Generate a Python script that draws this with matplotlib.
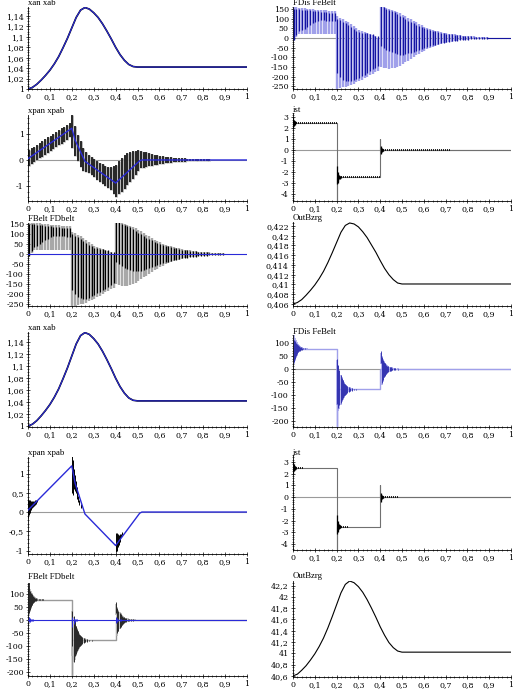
import matplotlib
matplotlib.use("Agg")
import matplotlib.pyplot as plt
from matplotlib.ticker import MultipleLocator, FuncFormatter

# ---- smooth curves (first and second simulation) ----
t_smooth = [0, 0.02, 0.04, 0.06, 0.08, 0.1, 0.12, 0.14, 0.16, 0.18, 0.2, 0.22, 0.24, 0.26,
            0.28, 0.3, 0.32, 0.34, 0.36, 0.38, 0.4, 0.42, 0.44, 0.46, 0.48, 0.5, 0.52, 0.6, 1.0]
xab = [1.000, 1.003, 1.009, 1.017, 1.026, 1.036, 1.048, 1.062, 1.079, 1.097, 1.117, 1.137, 1.151, 1.156,
       1.153, 1.146, 1.137, 1.125, 1.111, 1.096, 1.080, 1.066, 1.055, 1.047, 1.043, 1.042, 1.042, 1.042, 1.042]
outb1 = [0.4060, 0.4063, 0.4069, 0.4078, 0.4088, 0.4099, 0.4112, 0.4127, 0.4145, 0.4165, 0.4186, 0.4207,
         0.4221, 0.4226, 0.4224, 0.4218, 0.4208, 0.4196, 0.4181, 0.4166, 0.4149, 0.4133, 0.4120, 0.4110,
         0.4103, 0.4101, 0.4101, 0.4101, 0.4101]
outb2 = [40.60, 40.63, 40.70, 40.78, 40.88, 40.99, 41.12, 41.27, 41.45, 41.65, 41.86, 42.07, 42.22, 42.28,
         42.25, 42.18, 42.08, 41.95, 41.80, 41.64, 41.47, 41.32, 41.19, 41.10, 41.04, 41.02, 41.02, 41.02, 41.02]

# ---- piecewise xpab ----
t_xpab = [0, 0.2, 0.215, 0.26, 0.4, 0.51, 0.52, 1.0]
xpab = [0.05, 1.2, 0.75, -0.05, -0.87, -0.03, 0.0, 0.0]

# ---- oscillation samples (first simulation) ----
T = [0.003, 0.016, 0.028, 0.041, 0.053, 0.066, 0.078, 0.091, 0.103, 0.116, 0.128, 0.141, 0.153, 0.166, 0.178, 0.191,
     0.203, 0.216, 0.228, 0.241, 0.253, 0.266, 0.278, 0.291, 0.303, 0.316, 0.328, 0.341, 0.353, 0.366, 0.378, 0.391,
     0.403, 0.416, 0.428, 0.441, 0.453, 0.466, 0.478, 0.491, 0.503, 0.516, 0.528, 0.541, 0.553, 0.566, 0.578, 0.591,
     0.603, 0.616, 0.628, 0.641, 0.653, 0.666, 0.678, 0.691, 0.703, 0.716, 0.728, 0.741, 0.753, 0.766, 0.778, 0.791,
     0.803, 0.816, 0.828, 0.841, 0.853, 0.866, 0.878, 0.891]

fdis_hi = [152, 150, 149, 147, 146, 144, 142, 140, 138, 137, 135, 134, 132, 131, 130, 129,
           100, 92, 84, 75, 65, 55, 46, 38, 32, 28, 26, 25, 22, 18, 12, 8,
           165, 158, 152, 146, 140, 133, 125, 116, 107, 98, 90, 82, 75, 68, 62, 56, 51, 46, 42, 38,
           34, 31, 28, 25, 22, 20, 18, 16, 14, 13, 11, 10, 9, 8, 7, 6, 5, 5, 4, 3]
fdis_lo = [-10, 15, 35, 40, 48, 58, 68, 77, 84, 89, 91, 91, 90, 88, 87, 86,
           -180, -200, -215, -222, -225, -224, -220, -212, -205, -197, -190, -182, -173, -163, -153, -145,
           -40, -50, -60, -68, -75, -80, -84, -86, -86, -84, -80, -76, -71, -66, -60, -55, -50, -46, -42, -38,
           -34, -31, -28, -25, -22, -20, -18, -16, -14, -13, -11, -10, -9, -8, -7, -6, -5, -5, -4, -3]
feb_hi = [160, 158, 156, 155, 154, 152, 150, 149, 147, 146, 144, 143, 142, 141, 140, 139,
          112, 104, 96, 88, 80, 70, 60, 50, 42, 36, 30, 25, 20, 14, 8, 2,
          162, 158, 154, 150, 145, 140, 134, 128, 121, 113, 105, 96, 88, 80, 72, 65, 58, 52, 47, 42,
          38, 34, 31, 28, 25, 22, 20, 18, 16, 14, 12, 11, 10, 9, 8, 7, 6, 5, 5, 4]
feb_lo = [-10, 5, 18, 20, 20, 20, 20, 20, 20, 20, 20, 20, 20, 20, 20, 20,
          -262, -258, -255, -252, -248, -243, -237, -230, -224, -217, -209, -200, -192, -184, -177, -170,
          -150, -155, -158, -160, -158, -155, -150, -143, -135, -126, -117, -108, -99, -90, -81, -73, -65, -58, -52, -46,
          -41, -36, -32, -28, -25, -22, -19, -17, -15, -13, -11, -10, -9, -8, -7, -6, -5, -5, -4, -3]

xpan_hi = [0.38, 0.44, 0.50, 0.57, 0.64, 0.71, 0.78, 0.85, 0.92, 0.99, 1.06, 1.13, 1.19, 1.25, 1.31, 1.40,
           1.70, 1.30, 0.95, 0.70, 0.45, 0.30, 0.20, 0.12, 0.05, -0.03, -0.10, -0.17, -0.24, -0.28, -0.27, -0.22,
           -0.20, -0.05, 0.08, 0.18, 0.25, 0.30, 0.33, 0.35, 0.37, 0.35, 0.32, 0.29, 0.26, 0.23, 0.20, 0.18,
           0.16, 0.14, 0.13, 0.11, 0.10, 0.09, 0.08, 0.07, 0.065, 0.06, 0.05, 0.045, 0.04, 0.036, 0.032, 0.028,
           0.025, 0.022, 0.02, 0.018, 0.016, 0.014, 0.012, 0.01]
xpan_lo = [-0.22, -0.14, -0.07, 0.00, 0.06, 0.13, 0.20, 0.27, 0.34, 0.41, 0.48, 0.55, 0.62, 0.69, 0.76, 0.85,
           0.45, 0.15, -0.05, -0.25, -0.40, -0.45, -0.50, -0.58, -0.66, -0.74, -0.82, -0.90, -0.98, -1.05, -1.15, -1.30,
           -1.40, -1.30, -1.20, -1.08, -0.96, -0.85, -0.72, -0.58, -0.42, -0.32, -0.30, -0.27, -0.24, -0.22, -0.20, -0.18,
           -0.16, -0.14, -0.13, -0.11, -0.10, -0.09, -0.08, -0.07, -0.065, -0.06, -0.05, -0.045, -0.04, -0.036, -0.032,
           -0.028, -0.025, -0.022, -0.02, -0.018, -0.016, -0.014, -0.012, -0.01]

# ---- ist (both simulations) ----
ist_t = [0, 0.2, 0.2, 0.2, 0.4, 0.4, 0.4, 1.0]
ist_y = [2.5, 2.5, -5.0, -2.5, -2.5, 1.0, 0.0, 0.0]
ist_burst_t = [0.002, 0.005, 0.008, 0.011, 0.014, 0.202, 0.205, 0.208, 0.211, 0.214, 0.217, 0.220,
               0.402, 0.405, 0.408, 0.411, 0.414]
ist_burst_hi = [3.0, 2.8, 2.7, 2.62, 2.56, -1.5, -2.0, -2.2, -2.3, -2.35, -2.4, -2.43, 0.4, 0.25, 0.15, 0.1, 0.07]
ist_burst_lo = [2.0, 2.2, 2.3, 2.38, 2.44, -3.1, -3.0, -2.8, -2.7, -2.65, -2.6, -2.57, -0.4, -0.25, -0.15, -0.1, -0.07]
ist_level = [2.5, -2.5, 0.0]
ist1_ripple_from = [0.015, 0.222, 0.415]
ist1_ripple_to = [0.2, 0.4, 0.72]
ist2_ripple_from = [0.015, 0.222, 0.415]
ist2_ripple_to = [0.045, 0.258, 0.48]

# ---- second simulation: force bursts ----
step2_t = [0, 0.2, 0.2, 0.2, 0.4, 0.4, 1.0]
step2_y = [78, 78, -240, -78, -78, 0, 0]
burst2_t = [0.003, 0.008, 0.013, 0.018, 0.023, 0.028, 0.033, 0.038, 0.043, 0.048, 0.055, 0.062, 0.07,
            0.203, 0.208, 0.213, 0.218, 0.223, 0.228, 0.233, 0.238, 0.243, 0.248, 0.255, 0.262, 0.27, 0.28, 0.29,
            0.403, 0.408, 0.413, 0.418, 0.423, 0.428, 0.433, 0.438, 0.443, 0.448, 0.455, 0.462, 0.47, 0.48, 0.49, 0.5]
fdis2_hi = [112, 106, 101, 96, 92, 89, 86, 84, 82, 81, 80, 79, 79,
            40, 15, -5, -22, -34, -44, -52, -58, -62, -66, -70, -72, -74, -76, -77,
            68, 45, 36, 28, 22, 17, 13, 10, 8, 6, 5, 4, 3, 2, 1.5, 1]
fdis2_lo = [28, 40, 50, 58, 64, 68, 71, 73, 75, 76, 77, 77, 78,
            -135, -150, -140, -130, -120, -112, -105, -100, -96, -92, -88, -85, -83, -81, -80,
            25, -55, -42, -32, -25, -19, -15, -11, -9, -7, -5, -4, -3, -2, -1.5, -1]
feb2_hi = [130, 118, 110, 103, 97, 92, 88, 86, 84, 82, 81, 80, 79,
           35, 10, -8, -22, -32, -42, -50, -56, -61, -65, -69, -71, -73, -75, -77,
           60, 50, 40, 32, 25, 20, 15, 12, 9, 7, 6, 5, 4, 3, 2, 1]
feb2_lo = [20, 30, 42, 52, 60, 65, 69, 72, 74, 75, 76, 77, 78,
           -140, -160, -155, -140, -128, -118, -110, -104, -98, -94, -90, -87, -84, -82, -80,
           20, -60, -48, -36, -28, -22, -17, -13, -10, -8, -6, -5, -4, -3, -2, -1]
fbelt2_hi = [147, 112, 104, 98, 93, 89, 86, 84, 82, 81, 80, 79, 79,
             35, 15, -5, -22, -34, -44, -52, -58, -62, -66, -70, -72, -74, -76, -77,
             68, 45, 36, 28, 22, 17, 13, 10, 8, 6, 5, 4, 3, 2, 1.5, 1]
fbelt2_lo = [26, 38, 50, 58, 64, 68, 71, 73, 75, 76, 77, 77, 78,
             -100, -160, -140, -130, -120, -112, -105, -100, -96, -92, -88, -85, -83, -81, -80,
             25, -50, -42, -32, -25, -19, -15, -11, -9, -7, -5, -4, -3, -2, -1.5, -1]
fdbelt2_t = [0.003, 0.008, 0.013, 0.018, 0.025, 0.203, 0.208, 0.213, 0.218, 0.225,
             0.403, 0.408, 0.413, 0.418, 0.425]
fdbelt2_hi = [12, 8, 5, 3, 2, 12, 8, 5, 3, 2, 12, 8, 5, 3, 2]
fdbelt2_lo = [-8, -6, -4, -3, -2, -25, -15, -8, -5, -3, -10, -7, -5, -3, -2]

xpan2_t = [0.002, 0.006, 0.010, 0.014, 0.018, 0.022, 0.026, 0.030, 0.035, 0.040,
           0.202, 0.206, 0.210, 0.214, 0.218, 0.222, 0.226, 0.230, 0.235, 0.240,
           0.402, 0.406, 0.410, 0.414, 0.418, 0.422, 0.426, 0.430]
xpan2_hi = [0.35, 0.30, 0.30, 0.28, 0.28, 0.28, 0.29, 0.30, 0.31, 0.32,
            1.45, 1.35, 1.12, 0.95, 0.80, 0.66, 0.52, 0.42, 0.30, 0.20,
            -0.55, -0.55, -0.58, -0.60, -0.60, -0.58, -0.56, -0.53]
xpan2_lo = [-0.15, -0.08, -0.02, 0.05, 0.10, 0.13, 0.16, 0.19, 0.22, 0.25,
            0.50, 0.45, 0.60, 0.55, 0.50, 0.42, 0.35, 0.26, 0.18, 0.10,
            -1.05, -1.00, -0.92, -0.85, -0.78, -0.72, -0.66, -0.60]

BLUE = '#2a2ad8'
DARK = '#1414a0'
LIGHT = '#a0a0ea'
GRAY = '#9a9a9a'

W, H = 515, 690
fig = plt.figure(figsize=(W / 100, H / 100), dpi=100)
fig.patch.set_facecolor('white')

comma = FuncFormatter(lambda v, _: ('%g' % round(v, 6)).replace('.', ','))


def make_ax(left, right, top, bottom, ylim, major, minor, title, title_y):
    ax = fig.add_axes([left / W, 1 - bottom / H, (right - left) / W, (bottom - top) / H])
    ax.set_xlim(0, 1)
    ax.set_ylim(*ylim)
    for s in ('top', 'right'):
        ax.spines[s].set_visible(False)
    for s in ('left', 'bottom'):
        ax.spines[s].set_linewidth(0.6)
    ax.xaxis.set_major_locator(MultipleLocator(0.1))
    ax.xaxis.set_minor_locator(MultipleLocator(0.02))
    ax.yaxis.set_major_locator(MultipleLocator(major))
    ax.yaxis.set_minor_locator(MultipleLocator(minor))
    ax.xaxis.set_major_formatter(comma)
    ax.yaxis.set_major_formatter(comma)
    ax.tick_params(which='major', direction='inout', length=3, width=0.5, pad=1.5,
                   labelsize=5.7, labelfontfamily='DejaVu Serif')
    ax.tick_params(which='minor', direction='inout', length=1.5, width=0.4)
    ax.patch.set_alpha(0)
    fig.text(left / W, 1 - title_y / H, title, fontsize=6.3, family='Liberation Serif',
             va='center', ha='left')
    return ax


def bars(ax, t, hi, lo, color, lw, z=2):
    ax.vlines(t, lo, hi, colors=color, linewidth=lw, zorder=z)


L0, L1 = 28, 247
R0, R1 = 293, 511

# row 1
ax = make_ax(L0, L1, 7, 89, (1.0, 1.157), 0.02, 0.005, 'xan xab', 3)
ax.plot(t_smooth, xab, color='black', lw=1.2)
ax.plot(t_smooth, xab, color=BLUE, lw=0.8)

ax = make_ax(R0, R1, 7, 89, (-264, 160), 50, 10, 'FDis FeBelt', 3)
ax.axhline(0, color=GRAY, lw=0.8, zorder=1)
bars(ax, T, feb_hi, feb_lo, LIGHT, 1.7)
bars(ax, T, fdis_hi, fdis_lo, DARK, 0.9, 3)
ax.plot([0.891, 1.0], [0, 0], color=DARK, lw=0.8)

# row 2
ax = make_ax(L0, L1, 115, 201, (-1.55, 1.7), 1, 0.2, 'xpan xpab', 111)
ax.axhline(0, color=GRAY, lw=0.8, zorder=1)
bars(ax, T, xpan_hi, xpan_lo, '#b0b0b0', 2.0)
bars(ax, T, xpan_hi, xpan_lo, 'black', 1.1, 3)
ax.plot(t_xpab, xpab, color=BLUE, lw=1.0, zorder=4)

ax = make_ax(R0, R1, 113, 201, (-4.68, 3.4), 1, 0.2, 'ist', 110)
ax.axhline(0, color=GRAY, lw=0.8, zorder=1)
ax.plot(ist_t, ist_y, color='#707070', lw=0.8)
bars(ax, ist_burst_t, ist_burst_hi, ist_burst_lo, 'black', 0.9, 3)
ax.hlines(ist_level, ist1_ripple_from, ist1_ripple_to, colors='black', lw=1.2,
          linestyles=(0, (0.6, 0.6)), zorder=3)

# row 3
ax = make_ax(L0, L1, 223, 306, (-260, 155), 50, 10, 'FBelt FDbelt', 219)
bars(ax, T, feb_hi, feb_lo, '#a8a8a8', 1.7)
bars(ax, T, fdis_hi, fdis_lo, 'black', 0.9, 3)
ax.axhline(0, color=BLUE, lw=0.8, zorder=4)

ax = make_ax(R0, R1, 222, 306, (0.40559, 0.4228), 0.002, 0.0005, 'OutBzrg', 218)
ax.plot(t_smooth, outb1, color='black', lw=0.8)

# row 4
ax = make_ax(L0, L1, 332, 427, (0.9984, 1.157), 0.02, 0.005, 'xan xab', 328)
ax.plot(t_smooth, xab, color='black', lw=1.2)
ax.plot(t_smooth, xab, color=BLUE, lw=0.8)

ax = make_ax(R0, R1, 335, 427, (-223, 131), 50, 10, 'FDis FeBelt', 332)
ax.axhline(0, color=GRAY, lw=0.8, zorder=1)
ax.plot(step2_t, step2_y, color=LIGHT, lw=1.0, zorder=2)
bars(ax, burst2_t, feb2_hi, feb2_lo, LIGHT, 1.1)
bars(ax, burst2_t, fdis2_hi, fdis2_lo, DARK, 0.55, 3)

# row 5
ax = make_ax(L0, L1, 457, 554, (-1.09, 1.43), 0.5, 0.1, 'xpan xpab', 453)
ax.axhline(0, color=GRAY, lw=0.8, zorder=1)
bars(ax, xpan2_t, xpan2_hi, xpan2_lo, 'black', 0.7, 3)
ax.plot(t_xpab, xpab, color=BLUE, lw=1.0, zorder=4)

ax = make_ax(R0, R1, 455, 550, (-4.5, 3.6), 1, 0.2, 'ist', 453)
ax.axhline(0, color=GRAY, lw=0.8, zorder=1)
ax.plot(ist_t, ist_y, color='#707070', lw=0.8)
bars(ax, ist_burst_t, ist_burst_hi, ist_burst_lo, 'black', 0.9, 3)
ax.hlines(ist_level, ist2_ripple_from, ist2_ripple_to, colors='black', lw=1.2,
          linestyles=(0, (0.6, 0.6)), zorder=3)

# row 6
ax = make_ax(L0, L1, 583, 676, (-215, 142), 50, 10, 'FBelt FDbelt', 577)
ax.plot(step2_t, step2_y, color=GRAY, lw=1.0, zorder=2)
bars(ax, burst2_t, feb2_hi, feb2_lo, '#b4b4b4', 1.1)
bars(ax, burst2_t, fbelt2_hi, fbelt2_lo, 'black', 0.55, 3)
ax.axhline(0, color=BLUE, lw=0.8, zorder=4)
bars(ax, fdbelt2_t, fdbelt2_hi, fdbelt2_lo, BLUE, 0.7, 5)

ax = make_ax(R0, R1, 581, 677, (40.58, 42.28), 0.2, 0.05, 'OutBzrg', 576)
ax.plot(t_smooth, outb2, color='black', lw=0.8)

fig.savefig('out.png', dpi=100)
